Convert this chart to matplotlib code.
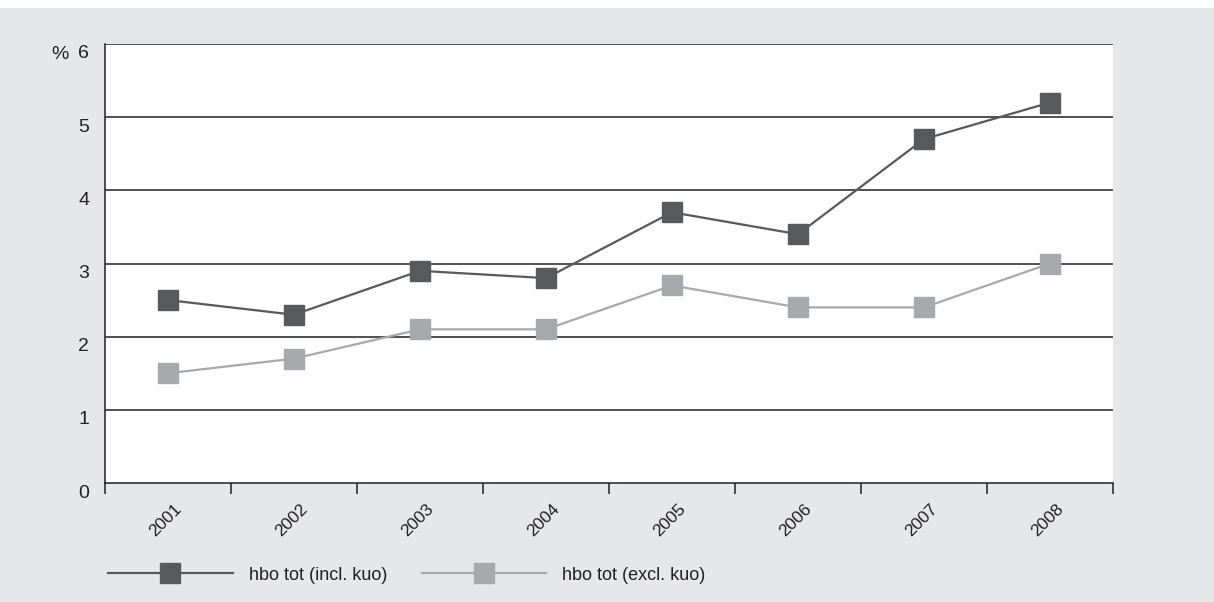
import matplotlib.pyplot as plt
import matplotlib.transforms as mtransforms
from matplotlib.patches import Rectangle

plt.rcParams['font.family'] = ['Liberation Sans', 'DejaVu Sans']

years = ['2001', '2002', '2003', '2004', '2005', '2006', '2007', '2008']
incl_kuo = [2.5, 2.3, 2.9, 2.8, 3.7, 3.4, 4.7, 5.2]
excl_kuo = [1.5, 1.7, 2.1, 2.1, 2.7, 2.4, 2.4, 3.0]
series_names = ['hbo tot (incl. kuo)', 'hbo tot (excl. kuo)']

BG = '#e6e7e8'
DARK = '#58595b'
LIGHT = '#a7a9ac'
TXT = '#231f20'

fig = plt.figure(figsize=(12.14, 6.02), dpi=100)
fig.patch.set_facecolor(BG)
# white strip along the top edge
fig.patches.append(Rectangle((0, 1 - 8 / 602), 1, 8 / 602, transform=fig.transFigure,
                             facecolor='white', edgecolor='none', zorder=0))

ax = fig.add_axes([105 / 1214, 1 - 483 / 602, 1008 / 1214, 439 / 602])
ax.set_facecolor('white')

x = list(range(len(years)))
ax.plot(x, incl_kuo, color=DARK, lw=1.6, marker='s', ms=14.5, mfc=DARK, mec=DARK,
        label=series_names[0], zorder=3)
ax.plot(x, excl_kuo, color=LIGHT, lw=1.6, marker='s', ms=14.5, mfc=LIGHT, mec=LIGHT,
        label=series_names[1], zorder=3)

ax.set_xlim(-0.5, len(years) - 0.5)
ax.set_ylim(0, 6)

# horizontal grid
for v in range(1, 7):
    ax.axhline(v, color=TXT, lw=1.1, zorder=1)

for s in ['top', 'right']:
    ax.spines[s].set_visible(False)
ax.spines['left'].set_color(TXT)
ax.spines['bottom'].set_color(TXT)
ax.spines['left'].set_linewidth(1.1)
ax.spines['bottom'].set_linewidth(1.1)

# y axis, labels sit a little below their grid line
ax.set_yticks(range(0, 7))
ax.set_yticklabels([str(v) for v in range(0, 7)], fontsize=14, color=TXT)
ax.tick_params(axis='y', length=0, pad=11.5)
shift = mtransforms.ScaledTranslation(0, -8 / 100, fig.dpi_scale_trans)
for lab in ax.get_yticklabels():
    lab.set_transform(lab.get_transform() + shift)
fig.text(69 / 1214, 1 - 59 / 602, '%', fontsize=14, color=TXT, ha='right', va='baseline')

# x axis: ticks at bin edges, labels at centres
ax.set_xticks([i - 0.5 for i in range(len(years) + 1)], minor=True)
ax.set_xticks(x)
ax.set_xticklabels(years, fontsize=12.5, color=TXT, rotation=45, ha='right', va='top',
                   rotation_mode='anchor')
ax.tick_params(axis='x', which='major', length=0, pad=13)
ax.tick_params(axis='x', which='minor', length=8, width=1.1, color=TXT, direction='out')
xshift = mtransforms.ScaledTranslation(6 / 100, 0, fig.dpi_scale_trans)
for lab in ax.get_xticklabels():
    lab.set_transform(lab.get_transform() + xshift)

leg = fig.legend(loc='center left', bbox_to_anchor=(108 / 1214, 1 - 575 / 602), ncol=2,
                 frameon=False, fontsize=13, handlelength=6.9, handletextpad=0.9,
                 columnspacing=1.9, numpoints=1, borderpad=0, borderaxespad=0)
for t in leg.get_texts():
    t.set_color(TXT)

plt.savefig('out.png', dpi=100, facecolor=fig.get_facecolor())
